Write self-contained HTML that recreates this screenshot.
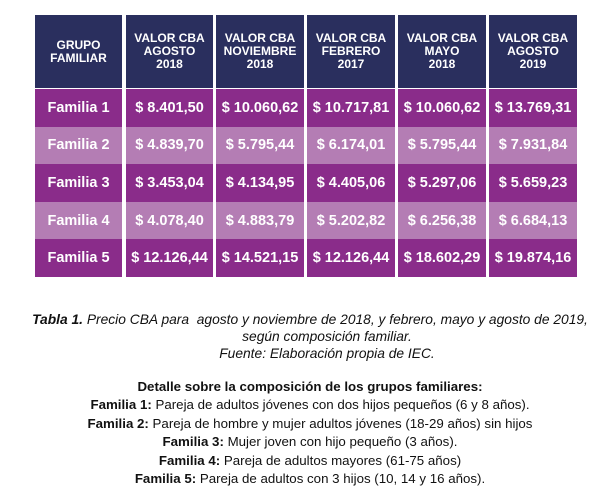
<!DOCTYPE html>
<html><head><meta charset="utf-8"><style>
body{margin:0;width:600px;height:495px;background:#fff;position:relative;overflow:hidden;font-family:"Liberation Sans",sans-serif}
.c{position:absolute;display:flex;align-items:center;justify-content:center;text-align:center;color:#fff;font-weight:bold}
.h{background:#2a2f5e;font-size:12px;line-height:13px;top:15px;height:73px}
.d{background:#8a2c8a;font-size:14.5px}
.l{background:#b47db4;font-size:14.5px}
.t{position:absolute;left:0;width:600px;text-align:center;font-size:13.3px;color:#111;line-height:18px;white-space:nowrap}
</style></head><body>
<div class="c h" style="left:35px;width:87px">GRUPO<br>FAMILIAR</div>
<div class="c h" style="left:126px;width:87px">VALOR CBA<br>AGOSTO<br>2018</div>
<div class="c h" style="left:216px;width:88px">VALOR CBA<br>NOVIEMBRE<br>2018</div>
<div class="c h" style="left:307px;width:88px">VALOR CBA<br>FEBRERO<br>2017</div>
<div class="c h" style="left:398px;width:88px">VALOR CBA<br>MAYO<br>2018</div>
<div class="c h" style="left:489px;width:88px">VALOR CBA<br>AGOSTO<br>2019</div>
<div id="rows"></div>
<script>
var data=[["Familia 1","$ 8.401,50","$ 10.060,62","$ 10.717,81","$ 10.060,62","$ 13.769,31"],
["Familia 2","$ 4.839,70","$ 5.795,44","$ 6.174,01","$ 5.795,44","$ 7.931,84"],
["Familia 3","$ 3.453,04","$ 4.134,95","$ 4.405,06","$ 5.297,06","$ 5.659,23"],
["Familia 4","$ 4.078,40","$ 4.883,79","$ 5.202,82","$ 6.256,38","$ 6.684,13"],
["Familia 5","$ 12.126,44","$ 14.521,15","$ 12.126,44","$ 18.602,29","$ 19.874,16"]];
var xs=[[35,87],[126,87],[216,88],[307,88],[398,88],[489,88]],h="";
data.forEach(function(r,i){var y=89+i*37.6;r.forEach(function(v,j){h+='<div class="c '+(i%2?'l':'d')+'" style="left:'+xs[j][0]+'px;width:'+xs[j][1]+'px;top:'+y+'px;height:37.6px">'+v+'</div>';});});
document.getElementById("rows").innerHTML=h;
</script>
<div class="t" style="top:311px;left:10px;font-size:13.8px;font-style:italic"><b>Tabla 1.</b> Precio CBA para &nbsp;agosto y noviembre de 2018, y febrero, mayo y agosto de 2019,</div>
<div class="t" style="top:328px;left:27px;font-size:13.8px;font-style:italic">según composición familiar.</div>
<div class="t" style="top:345px;left:27px;font-size:13.8px;font-style:italic">Fuente: Elaboración propia de IEC.</div>
<div class="t" style="top:378px;left:10px"><b>Detalle sobre la composición de los grupos familiares:</b></div>
<div class="t" style="top:396px;left:10px"><b>Familia 1:</b> Pareja de adultos jóvenes con dos hijos pequeños (6 y 8 años).</div>
<div class="t" style="top:415px;left:10px"><b>Familia 2:</b> Pareja de hombre y mujer adultos jóvenes (18-29 años) sin hijos</div>
<div class="t" style="top:433px;left:10px"><b>Familia 3:</b> Mujer joven con hijo pequeño (3 años).</div>
<div class="t" style="top:452px;left:10px"><b>Familia 4:</b> Pareja de adultos mayores (61-75 años)</div>
<div class="t" style="top:470px;left:10px"><b>Familia 5:</b> Pareja de adultos con 3 hijos (10, 14 y 16 años).</div>
</body></html>
